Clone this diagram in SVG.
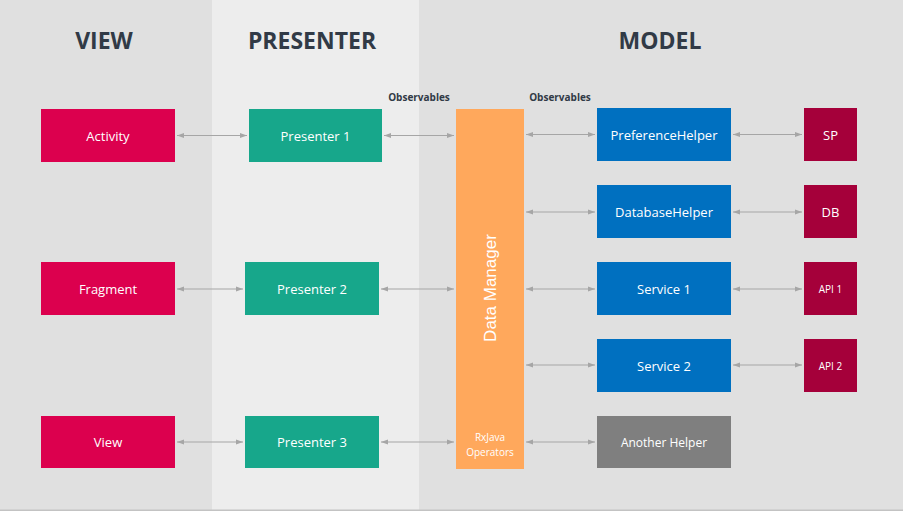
<svg xmlns="http://www.w3.org/2000/svg" width="903" height="511" viewBox="0 0 903 511">
<defs>
<marker id="ah" viewBox="0 0 7 6" refX="7" refY="3" markerWidth="7" markerHeight="6" orient="auto-start-reverse" markerUnits="userSpaceOnUse">
<path d="M0,0.5 L7,3 L0,5.5 z" fill="#a6a6a6"/>
</marker>
<style>
.hd{font-family:"Open Sans","DejaVu Sans",sans-serif;font-weight:bold;font-size:23px;fill:#313a46;text-anchor:middle}
.obs{font-family:"Open Sans","DejaVu Sans",sans-serif;font-weight:bold;font-size:10px;fill:#313a46;text-anchor:middle}
.lb{font-family:"Open Sans","DejaVu Sans",sans-serif;font-size:13px;fill:#ffffff;text-anchor:middle;dominant-baseline:central}
.sm{font-family:"Open Sans","DejaVu Sans",sans-serif;font-size:10px;fill:#ffffff;text-anchor:middle;dominant-baseline:central}
.cn line{stroke:#a6a6a6;stroke-width:1.2;marker-start:url(#ah);marker-end:url(#ah)}
.v{fill:#dc004e}.p{fill:#17a78b}.m{fill:#0070c0}.s{fill:#a5003a}.dm{fill:#ffa85c}.g{fill:#7f7f7f}
</style>
</defs>
<rect x="0" y="0" width="903" height="511" fill="#e0e0e0"/>
<rect x="212" y="0" width="207" height="510" fill="#ededed"/>
<rect x="0" y="509.5" width="903" height="1.5" fill="#c3c3c3"/>
<g id="headers">
<text class="hd" x="104" y="49">VIEW</text>
<text class="hd" x="312" y="49">PRESENTER</text>
<text class="hd" x="660" y="49">MODEL</text>
<text class="obs" x="419" y="101">Observables</text>
<text class="obs" x="560" y="101">Observables</text>
</g>
<g class="cn" id="connectors">
<line x1="177" y1="135.5" x2="247" y2="135.5"/>
<line x1="384" y1="135.5" x2="454" y2="135.5"/>
<line x1="177" y1="289" x2="243" y2="289"/>
<line x1="381" y1="289" x2="454" y2="289"/>
<line x1="177" y1="442" x2="243" y2="442"/>
<line x1="381" y1="442" x2="454" y2="442"/>
<line x1="526" y1="134.5" x2="595" y2="134.5"/>
<line x1="526" y1="212" x2="595" y2="212"/>
<line x1="526" y1="289" x2="595" y2="289"/>
<line x1="526" y1="365" x2="595" y2="365"/>
<line x1="526" y1="442" x2="595" y2="442"/>
<line x1="733" y1="134.5" x2="802" y2="134.5"/>
<line x1="733" y1="212" x2="802" y2="212"/>
<line x1="733" y1="289" x2="802" y2="289"/>
<line x1="733" y1="365" x2="802" y2="365"/>
</g>
<g id="activity"><rect class="v" x="41" y="109" width="134" height="53"/><text class="lb" x="108" y="135.5">Activity</text></g>
<g id="fragment"><rect class="v" x="41" y="262" width="134" height="53"/><text class="lb" x="108" y="289">Fragment</text></g>
<g id="view"><rect class="v" x="41" y="416" width="134" height="52"/><text class="lb" x="108" y="442">View</text></g>
<g id="presenter1"><rect class="p" x="249" y="109" width="133" height="53"/><text class="lb" x="315.5" y="135.5">Presenter 1</text></g>
<g id="presenter2"><rect class="p" x="245" y="262" width="134" height="53"/><text class="lb" x="312" y="289">Presenter 2</text></g>
<g id="presenter3"><rect class="p" x="245" y="416" width="134" height="52"/><text class="lb" x="312" y="442">Presenter 3</text></g>
<g id="datamanager"><rect class="dm" x="456" y="109" width="68" height="360"/>
<text x="490" y="288" transform="rotate(-90 490 288)" font-family="'Liberation Sans',Arial,sans-serif" font-size="17" fill="#ffffff" text-anchor="middle" dominant-baseline="central">Data Manager</text>
<text class="sm" x="490" y="437">RxJava</text><text class="sm" x="490" y="452">Operators</text></g>
<g id="preferencehelper"><rect class="m" x="597" y="108" width="134" height="53"/><text class="lb" x="664" y="134.5">PreferenceHelper</text></g>
<g id="databasehelper"><rect class="m" x="597" y="185" width="134" height="53"/><text class="lb" x="664" y="211.5">DatabaseHelper</text></g>
<g id="service1"><rect class="m" x="597" y="262" width="134" height="53"/><text class="lb" x="664" y="289">Service 1</text></g>
<g id="service2"><rect class="m" x="597" y="339" width="134" height="53"/><text class="lb" x="664" y="365.5">Service 2</text></g>
<g id="anotherhelper"><rect class="g" x="597" y="416" width="134" height="52"/><text class="lb" x="664" y="442" style="font-size:12px">Another Helper</text></g>
<g id="sp"><rect class="s" x="804" y="108" width="53" height="53"/><text class="lb" x="830.5" y="134.5">SP</text></g>
<g id="db"><rect class="s" x="804" y="185" width="53" height="53"/><text class="lb" x="830.5" y="211.5">DB</text></g>
<g id="api1"><rect class="s" x="804" y="262" width="53" height="53"/><text class="sm" x="830.5" y="289">API 1</text></g>
<g id="api2"><rect class="s" x="804" y="339" width="53" height="53"/><text class="sm" x="830.5" y="365.5">API 2</text></g>
</svg>
